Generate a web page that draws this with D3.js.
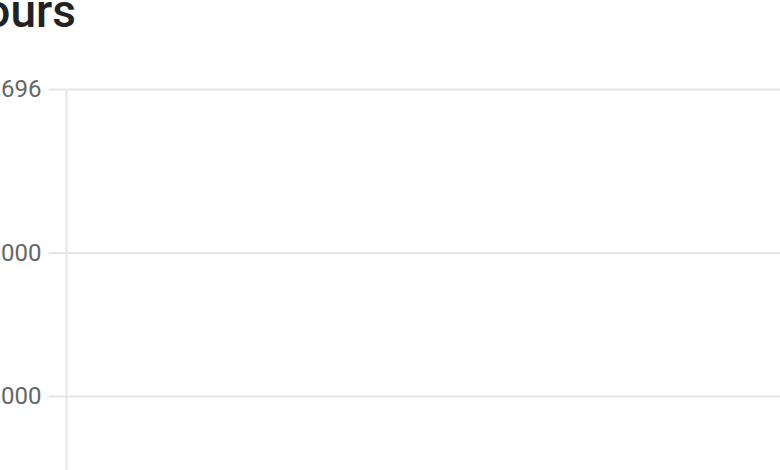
<!DOCTYPE html>
<html>
<head>
<meta charset="utf-8">
<script src="https://cdn.jsdelivr.net/npm/d3@7"></script>
<style>
  html, body { margin: 0; padding: 0; background: #fff; overflow: hidden; }
  svg { display: block; }
</style>
</head>
<body>
<svg id="chart" width="780" height="470"></svg>
<script>
const titleText = "Total Hours";
const yDomain = [0, 20696];
const yTickValues = [10000, 15000, 20696];

const W = 780, H = 470;
const svg = d3.select("#chart");
const axisX = 66.5;
const font = "Roboto, 'Noto Sans', sans-serif";

const y = d3.scaleLinear().domain(yDomain).range([683, 89]);

// gridlines
const grid = svg.append("g").attr("transform", `translate(${axisX},0)`)
  .call(d3.axisLeft(y).tickValues(yTickValues).tickSize(-(W - axisX + 10)).tickFormat(""));
grid.select(".domain").remove();
grid.selectAll("line").attr("stroke", "#e6e6e6").attr("stroke-width", 2);

// axis ticks and labels
const fmt = d3.format(",");
const ax = svg.append("g").attr("transform", `translate(${axisX},0)`)
  .call(d3.axisLeft(y).tickValues(yTickValues).tickSize(18).tickPadding(7).tickFormat(d => fmt(d)));
ax.select(".domain").remove();
ax.selectAll("line").attr("stroke", "#e6e6e6").attr("stroke-width", 2);
ax.selectAll("text").attr("fill", "#666").attr("font-size", 24).attr("font-family", font);

// vertical axis line
svg.append("line")
  .attr("x1", axisX).attr("x2", axisX)
  .attr("y1", y(yDomain[1])).attr("y2", H)
  .attr("stroke", "#e6e6e6").attr("stroke-width", 2);

// title (clipped at left like the reference)
svg.append("text")
  .attr("x", 76).attr("y", 26.5)
  .attr("text-anchor", "end")
  .attr("font-family", font)
  .attr("font-weight", 500)
  .attr("font-size", 46)
  .attr("fill", "#222")
  .text(titleText);
</script>
</body>
</html>
